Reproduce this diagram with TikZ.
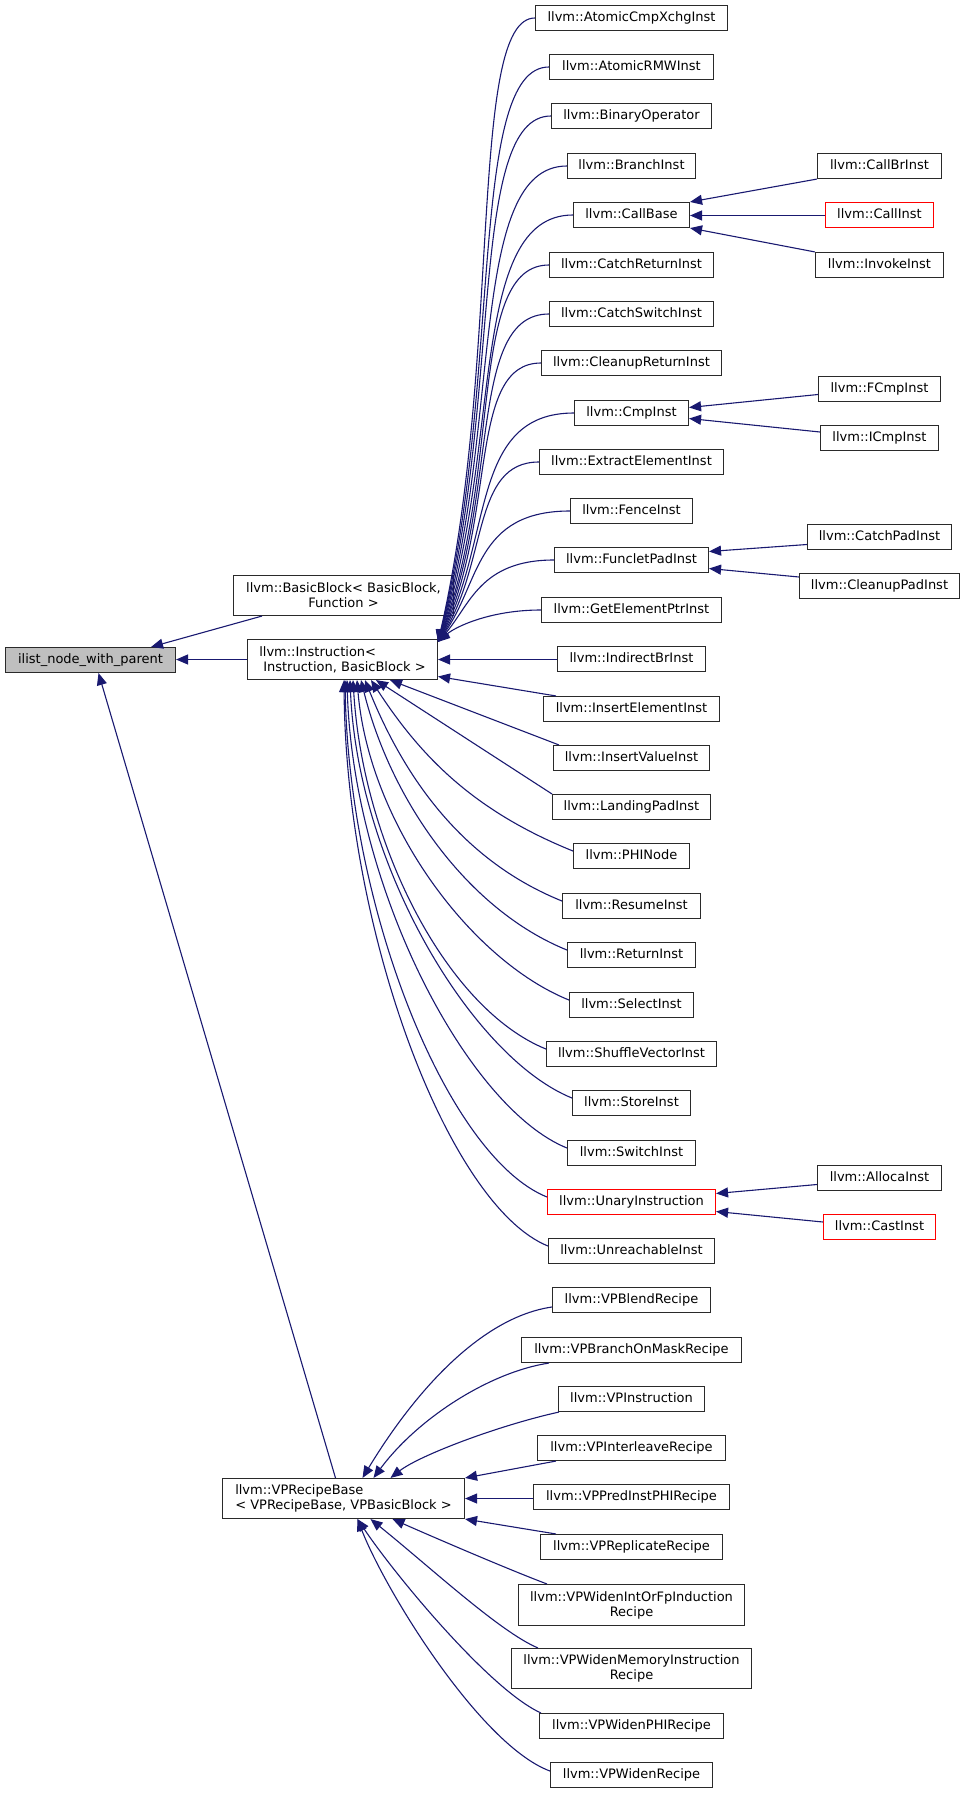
\documentclass[tikz,border=0pt]{standalone}
\usepackage{fontspec}
\setmainfont{DejaVu Sans}
\usetikzlibrary{arrows.meta}
\definecolor{edgeblue}{HTML}{191970}
\definecolor{rootgray}{HTML}{BFBFBF}
\definecolor{boxline}{HTML}{2A2A2A}
\begin{document}
\begin{tikzpicture}[x=1pt,y=-1pt,
 cbase/.style={draw=boxline, line width=1.1pt, fill=white, inner sep=0pt, font=\fontsize{13}{15}\selectfont},
 cls/.style={cbase, minimum height=25pt, text height=10pt, text depth=3pt},
 clsred/.style={cls, draw=red},
 clstwo/.style={cbase, minimum height=40pt},
 inh/.style={draw=edgeblue, line width=1.1pt, {Triangle[length=12pt,width=10pt]}-}]
\useasboundingbox (0,0) rectangle (964,1793);

% left nodes
\node[cls, fill=rootgray, minimum width=170pt] (root) at (90.5,660) {ilist\_node\_with\_parent};
\node[clstwo, minimum width=220pt, align=center] (bb) at (343.5,595.5) {llvm::BasicBlock< BasicBlock,\\Function >};
\node[clstwo, minimum width=190pt, align=left] (instr) at (342.5,659.5) {llvm::Instruction<\\\hspace*{4pt}Instruction, BasicBlock >};
\node[clstwo, minimum width=242pt, align=left] (vp) at (343.5,1498.5) {llvm::VPRecipeBase\\< VPRecipeBase, VPBasicBlock >};

% middle column
\foreach \n/\y/\w/\t in {acx/18/192/AtomicCmpXchgInst, armw/67/164/AtomicRMWInst, binop/116/160/BinaryOperator,
 br/166/128/BranchInst, cb/215/116/CallBase, cr/265/164/CatchReturnInst, cs/314/164/CatchSwitchInst,
 clr/363/180/CleanupReturnInst, cmp/413/114/CmpInst, ee/462/184/ExtractElementInst, fence/511/122/FenceInst,
 fp/560/154/FuncletPadInst, gep/610/180/GetElementPtrInst, ibr/659/148/IndirectBrInst,
 ie/709/176/InsertElementInst, iv/758/156/InsertValueInst, lp/807/158/LandingPadInst, phi/856/116/PHINode,
 res/906/138/ResumeInst, ret/955/128/ReturnInst, sel/1005/124/SelectInst, shuf/1054/170/ShuffleVectorInst,
 st/1103/118/StoreInst, sw/1153/128/SwitchInst, unr/1251/166/UnreachableInst,
 vbl/1300/158/VPBlendRecipe, vbom/1350/220/VPBranchOnMaskRecipe, vin/1399/146/VPInstruction,
 vil/1448/188/VPInterleaveRecipe, vpr/1497/196/VPPredInstPHIRecipe, vrep/1547/182/VPReplicateRecipe,
 vwp/1726/184/VPWidenPHIRecipe, vwr/1775/162/VPWidenRecipe}
 {\node[cls, minimum width=\w pt] (\n) at (631.5,\y) {llvm::\t};}
\node[clsred, minimum width=168pt] (un) at (631.5,1202) {llvm::UnaryInstruction};
\node[clstwo, minimum width=226pt, minimum height=41pt, align=center] (vwi) at (631.5,1605) {llvm::VPWidenIntOrFpInduction\\Recipe};
\node[clstwo, minimum width=240pt, align=center] (vwm) at (631.5,1668.5) {llvm::VPWidenMemoryInstruction\\Recipe};

% right column
\node[cls, minimum width=124pt] (cbr) at (879.5,166) {llvm::CallBrInst};
\node[clsred, minimum width=108pt] (ci) at (879.5,215) {llvm::CallInst};
\node[cls, minimum width=128pt] (inv) at (879.5,265) {llvm::InvokeInst};
\node[cls, minimum width=122pt] (fcmp) at (879.5,389) {llvm::FCmpInst};
\node[cls, minimum width=118pt] (icmp) at (879.5,438) {llvm::ICmpInst};
\node[cls, minimum width=144pt] (cpad) at (879.5,537) {llvm::CatchPadInst};
\node[cls, minimum width=160pt] (clpad) at (879.5,586) {llvm::CleanupPadInst};
\node[cls, minimum width=124pt] (alloca) at (879.5,1178) {llvm::AllocaInst};
\node[clsred, minimum width=112pt] (cast) at (879.5,1227) {llvm::CastInst};

% edges to root
\draw[inh] ([xshift=-25pt]root.north east) -- ([xshift=29pt]bb.south west);
\draw[inh] (instr.west -| root.east) -- (instr.west);
\draw[inh] ([xshift=8pt]root.south) -- ([xshift=-8pt]vp.north);

% Instruction upper fan
\coordinate (iNE) at ([yshift=-3pt]instr.north east);
\foreach \n/\ax/\ay/\bx/\by in {acx/502.5/361/467.5/18, armw/502.5/383/467.5/67, binop/502.5/405.5/467.5/116,
 br/502.5/428/467.5/166, cb/502.5/450/467.5/215, cr/502.5/472/467.5/265, cs/500/494/467.5/314,
 clr/497/517/467.5/363, cmp/493/539/470/413, ee/488/561/472/462, fence/480/583/475/511,
 fp/470/605/480/560, gep/455/627/490/610}
 {\draw[inh] (iNE) .. controls (\ax,\ay) and (\bx,\by) .. (\n.west);}
\draw[inh] (instr.east) -- (instr.east -| ibr.west);
\draw[inh] ([yshift=-17pt]instr.east) -- ([xshift=13pt]ie.north west);
\draw[inh] ([xshift=47.5pt]instr.south) -- ([xshift=6pt]iv.north west);
\draw[inh] ([xshift=33.5pt]instr.south) -- (lp.north west);
\foreach \n/\s/\ax/\ay/\bx/\by in {phi/28.5/421/757/474/811, res/22.5/405/779/463/861, ret/18.5/391/801/468/910,
 sel/14.5/369/823/470/960, shuf/10.5/363/845.5/447/1009, st/7.5/358/868/473/1058, sw/4.5/353/890/468/1108,
 un/2.5/349/912/448/1157, unr/1.5/346/934/449/1206}
 {\draw[inh] ([xshift=\s pt]instr.south) .. controls (\ax,\ay) and (\bx,\by) .. ([yshift=5pt]\n.west);}

% second level
\draw[inh] (cb.north east) -- (cbr.south west);
\draw[inh] ([yshift=-0.5pt]cb.east) -- ([yshift=-0.5pt]ci.west);
\draw[inh] (cb.south east) -- (inv.north west);
\draw[inh] ([yshift=5.5pt]cmp.east) -- ([yshift=-5.5pt]fcmp.west);
\draw[inh] ([yshift=-5.5pt]cmp.east) -- ([yshift=6pt]icmp.west);
\draw[inh] ([yshift=8.5pt]fp.east) -- ([yshift=-7.5pt]cpad.west);
\draw[inh] ([yshift=-8.5pt]fp.east) -- ([yshift=9pt]clpad.west);
\draw[inh] ([yshift=8.5pt]un.east) -- ([yshift=-6.5pt]alloca.west);
\draw[inh] ([yshift=-9.5pt]un.east) -- ([yshift=5pt]cast.west);

% VPRecipeBase fan
\draw[inh] ([xshift=19pt]vp.north) .. controls (417,1388) and (483,1317) .. ([yshift=-7pt]vbl.west);
\draw[inh] ([xshift=30pt]vp.north) .. controls (418,1418) and (490,1372) .. ([xshift=28pt]vbom.south west);
\draw[inh] ([xshift=47pt]vp.north) .. controls (420,1455) and (500,1425) .. ([xshift=1pt]vin.south west);
\draw[inh] (vp.north east) -- ([xshift=19pt]vil.south west);
\draw[inh] (vp.east) -- (vp.east -| vpr.west);
\draw[inh] (vp.south east) -- ([xshift=16pt]vrep.north west);
\draw[inh] ([xshift=49pt]vp.south) .. controls (440,1540) and (510,1570) .. ([xshift=29pt]vwi.north west);
\draw[inh] ([xshift=27pt]vp.south) .. controls (430,1567) and (500,1632) .. ([xshift=27pt]vwm.north west);
\draw[inh] ([xshift=14pt]vp.south) .. controls (395,1575) and (490,1690) .. ([xshift=2pt]vwp.north west);
\draw[inh] ([xshift=14pt]vp.south) .. controls (385,1590) and (480,1745) .. ([yshift=4pt]vwr.west);
\end{tikzpicture}
\end{document}
